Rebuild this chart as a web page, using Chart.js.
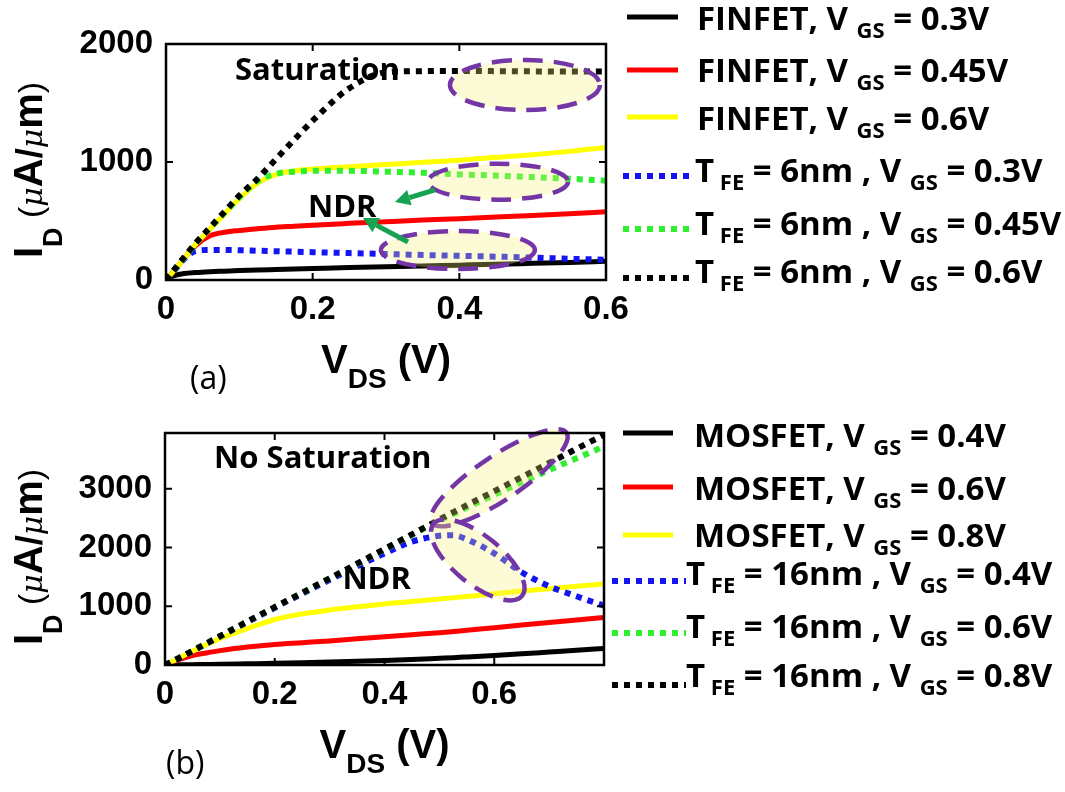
<!DOCTYPE html>
<html>
<head>
<meta charset="utf-8">
<script src="https://cdn.jsdelivr.net/npm/chart.js@4.4.1/dist/chart.umd.min.js"></script>
<style>
  html, body { margin: 0; padding: 0; background: #fff; }
  #wrap { position: relative; width: 1065px; height: 792px; overflow: hidden; }
  canvas { position: absolute; left: 0; }
  #chart-a { top: 0; }
  #chart-b { top: 400px; }
</style>
</head>
<body>
<div id="wrap">
  <canvas id="chart-a" width="1065" height="400"></canvas>
  <canvas id="chart-b" width="1065" height="392"></canvas>
</div>
<script>
// ---- panel (a): FinFET vs NC-FinFET (T_FE = 6nm), I_D in uA/um ----
const vdsA = [0, 0.01, 0.025, 0.04, 0.06, 0.08, 0.1, 0.125, 0.15, 0.175, 0.2, 0.25, 0.3, 0.35, 0.4, 0.45, 0.5, 0.55, 0.6];
const finfet03 = [0, 35, 55, 63, 70, 75, 80, 85, 89, 93, 97, 105, 112, 119, 126, 133, 141, 149, 158];
const finfet045 = [0, 70, 185, 290, 375, 405, 420, 435, 448, 456, 465, 480, 494, 508, 520, 533, 547, 562, 578];
const finfet06 = [0, 72, 185, 300, 430, 560, 690, 820, 895, 925, 940, 960, 978, 997, 1015, 1040, 1062, 1090, 1124];
const tfe6_03 = [0, 70, 180, 245, 255, 255, 252, 248, 244, 240, 236, 228, 220, 212, 205, 198, 190, 180, 172];
const tfe6_045 = [0, 75, 190, 305, 440, 570, 700, 840, 900, 918, 925, 925, 918, 908, 895, 885, 872, 858, 842];
const tfe6_06 = [0, 78, 195, 310, 445, 580, 715, 860, 1025, 1190, 1350, 1625, 1760, 1770, 1772, 1770, 1768, 1768, 1768];
const xTicksA = [0, 0.2, 0.4, 0.6];
const yTicksA = [0, 1000, 2000];

// ---- panel (b): MOSFET vs NC-MOSFET (T_FE = 16nm) ----
const vdsB = [0, 0.025, 0.05, 0.075, 0.1, 0.15, 0.2, 0.25, 0.3, 0.35, 0.4, 0.45, 0.5, 0.525, 0.55, 0.6, 0.65, 0.7, 0.75, 0.8];
const mos04 = [0, 3, 6, 9, 12, 20, 28, 38, 50, 63, 78, 95, 115, 125, 137, 162, 190, 220, 250, 282];
const mos06 = [0, 90, 160, 205, 245, 305, 350, 380, 410, 445, 480, 515, 550, 570, 590, 636, 680, 723, 767, 810];
const mos08 = [0, 115, 235, 345, 450, 620, 775, 870, 935, 990, 1040, 1080, 1125, 1145, 1165, 1215, 1260, 1300, 1340, 1382];
const tfe16_04 = [0, 115, 238, 360, 485, 730, 975, 1215, 1450, 1680, 1900, 2100, 2200, 2210, 2140, 1900, 1580, 1340, 1170, 1010];
const tfe16_06 = [0, 115, 240, 365, 490, 740, 985, 1230, 1475, 1720, 1970, 2215, 2460, 2570, 2680, 2900, 3110, 3320, 3520, 3720];
const tfe16_08 = [0, 115, 240, 365, 490, 740, 985, 1230, 1475, 1725, 1975, 2225, 2475, 2600, 2720, 2960, 3200, 3440, 3680, 3920];
const xTicksB = [0, 0.2, 0.4, 0.6];
const yTicksB = [0, 1000, 2000, 3000];

// legend texts: [text, isSubscript]
const legendTextA = [
  [['FINFET, V '], ['GS', 1], [' = 0.3V']],
  [['FINFET, V '], ['GS', 1], [' = 0.45V']],
  [['FINFET, V '], ['GS', 1], [' = 0.6V']],
  [['T'], [' FE', 1], [' = 6nm , V '], ['GS', 1], [' = 0.3V']],
  [['T'], [' FE', 1], [' = 6nm , V '], ['GS', 1], [' = 0.45V']],
  [['T'], [' FE', 1], [' = 6nm , V '], ['GS', 1], [' = 0.6V']],
];
const legendTextB = [
  [['MOSFET, V '], ['GS', 1], [' = 0.4V']],
  [['MOSFET, V '], ['GS', 1], [' = 0.6V']],
  [['MOSFET, V '], ['GS', 1], [' = 0.8V']],
  [['T'], [' FE', 1], [' = 16nm , V '], ['GS', 1], [' = 0.4V']],
  [['T'], [' FE', 1], [' = 16nm , V '], ['GS', 1], [' = 0.6V']],
  [['T'], [' FE', 1], [' = 16nm , V '], ['GS', 1], [' = 0.8V']],
];

const COLORS = {
  black: '#000000',
  red: '#ff0000',
  yellow: '#ffff00',
  blue: '#1414f0',
  green: '#2ef02e',
};
const legendStyle = [
  { color: COLORS.black, dotted: false },
  { color: COLORS.red, dotted: false },
  { color: COLORS.yellow, dotted: false },
  { color: COLORS.blue, dotted: true },
  { color: COLORS.green, dotted: true },
  { color: COLORS.black, dotted: true },
];

const TEXT_FONT = 'bold 33px "Open Sans"';
const SUB_FONT = 'bold 22px "Open Sans"';
const NOTE_FONT = 'bold 31px "Open Sans"';
const DASH = [6, 6];

const line = (xs, ys, color, dotted) => ({
  data: xs.map((x, i) => ({ x: x, y: ys[i] })),
  borderColor: color,
  backgroundColor: color,
  borderWidth: dotted ? 6 : 5,
  borderDash: dotted ? DASH : [],
  borderCapStyle: 'butt',
  pointRadius: 0,
  cubicInterpolationMode: 'monotone',
  fill: false,
});

const drawRich = (ctx, x, y, parts) => {
  parts.forEach((p) => {
    ctx.font = p.font;
    ctx.fillText(p.text, x, y + (p.dy || 0));
    x += ctx.measureText(p.text).width;
  });
  return x;
};

const richWidth = (ctx, parts) =>
  parts.reduce((w, p) => {
    ctx.font = p.font;
    return w + ctx.measureText(p.text).width;
  }, 0);

const yTitleParts = [
  { text: 'I', font: 'bold 40px "Liberation Sans"' },
  { text: 'D', font: 'bold 27px "Liberation Sans"', dy: 20 },
  { text: ' (', font: '34px "Liberation Sans"' },
  { text: 'μ', font: 'italic 30px "DejaVu Serif"' },
  { text: 'A', font: 'bold 40px "Liberation Sans"' },
  { text: '/', font: 'bold 36px "Liberation Sans"' },
  { text: 'μ', font: 'italic 30px "DejaVu Serif"' },
  { text: 'm', font: 'bold 40px "Liberation Sans"' },
  { text: ')', font: '34px "Liberation Sans"' },
];
const xTitleParts = [
  { text: 'V', font: 'bold 40px "Liberation Sans"' },
  { text: 'DS', font: 'bold 28px "Liberation Sans"', dy: 15 },
  { text: ' (V)', font: 'bold 40px "Liberation Sans"' },
];

const drawArrow = (ctx, x0, y0, x1, y1) => {
  const ang = Math.atan2(y1 - y0, x1 - x0);
  const head = 15;
  const bx = x1 - head * Math.cos(ang);
  const by = y1 - head * Math.sin(ang);
  ctx.strokeStyle = '#17a24f';
  ctx.fillStyle = '#17a24f';
  ctx.lineWidth = 5;
  ctx.beginPath();
  ctx.moveTo(x0, y0);
  ctx.lineTo(bx, by);
  ctx.stroke();
  ctx.beginPath();
  ctx.moveTo(x1, y1);
  ctx.lineTo(bx + 8 * Math.sin(ang), by - 8 * Math.cos(ang));
  ctx.lineTo(bx - 8 * Math.sin(ang), by + 8 * Math.cos(ang));
  ctx.closePath();
  ctx.fill();
};

const panelPlugin = (cfg) => ({
  id: 'panel' + cfg.tag,
  afterDatasetsDraw(chart) {
    const { ctx, chartArea: a } = chart;
    const sx = chart.scales.x;
    const sy = chart.scales.y;
    const px = (v) => sx.getPixelForValue(v);
    const py = (v) => sy.getPixelForValue(v);
    ctx.save();
    ctx.textAlign = 'left';
    ctx.textBaseline = 'alphabetic';

    // highlighted regions
    cfg.ellipses.forEach((e) => {
      ctx.beginPath();
      ctx.ellipse(px(e.x), py(e.y), e.rx, e.ry, (e.rot * Math.PI) / 180, 0, Math.PI * 2);
      ctx.fillStyle = 'rgba(250, 240, 120, 0.3)';
      ctx.fill();
      ctx.setLineDash([20, 11]);
      ctx.lineWidth = 4.5;
      ctx.strokeStyle = '#7436a6';
      ctx.stroke();
    });
    ctx.setLineDash([]);

    cfg.arrows.forEach((r) => drawArrow(ctx, px(r.from[0]), py(r.from[1]), px(r.to[0]), py(r.to[1])));

    ctx.fillStyle = '#000';
    ctx.font = NOTE_FONT;
    cfg.notes.forEach((n) => ctx.fillText(n.text, px(n.x), py(n.y)));

    // box with inward ticks
    ctx.strokeStyle = '#000';
    ctx.lineWidth = 2.5;
    ctx.strokeRect(a.left, a.top, a.right - a.left, a.bottom - a.top);
    ctx.lineWidth = 2;
    ctx.beginPath();
    cfg.xTicks.forEach((v) => {
      const x = px(v);
      ctx.moveTo(x, a.bottom);
      ctx.lineTo(x, a.bottom - 7);
      ctx.moveTo(x, a.top);
      ctx.lineTo(x, a.top + 7);
    });
    cfg.yTicks.forEach((v) => {
      const y = py(v);
      ctx.moveTo(a.left, y);
      ctx.lineTo(a.left + 7, y);
      ctx.moveTo(a.right, y);
      ctx.lineTo(a.right - 7, y);
    });
    ctx.stroke();

    // axis titles
    const midY = (a.top + a.bottom) / 2;
    const midX = (a.left + a.right) / 2;
    ctx.save();
    ctx.translate(42, midY);
    ctx.rotate(-Math.PI / 2);
    drawRich(ctx, -richWidth(ctx, yTitleParts) / 2 - 8, 0, yTitleParts);
    ctx.restore();
    drawRich(ctx, midX - richWidth(ctx, xTitleParts) / 2, a.bottom + 93, xTitleParts);
    ctx.font = '32px "Open Sans"';
    ctx.fillText(cfg.tagText, cfg.tagX, a.bottom + 109);

    // legend
    cfg.legend.forEach((row, i) => {
      const st = legendStyle[i];
      const ly = row.lineY - cfg.offsetY;
      ctx.strokeStyle = st.color;
      ctx.lineWidth = st.dotted ? 6 : 5;
      ctx.setLineDash(st.dotted ? DASH : []);
      ctx.beginPath();
      ctx.moveTo(st.dotted ? cfg.dotX0 : cfg.solidX0, ly);
      ctx.lineTo(st.dotted ? cfg.dotX1 : cfg.solidX1, ly);
      ctx.stroke();
      ctx.setLineDash([]);
      ctx.fillStyle = '#000';
      const parts = cfg.legendText[i].map(([t, sub]) => ({
        text: t,
        font: sub ? SUB_FONT : TEXT_FONT,
        dy: sub ? 8 : 0,
      }));
      drawRich(ctx, st.dotted ? cfg.dotX1 : cfg.textX, row.base - cfg.offsetY, parts);
    });
    ctx.restore();
  },
});

const makeOptions = (xMax, yMax, xTicks, yTicks, pad, yWidth) => ({
  responsive: false,
  animation: false,
  layout: { padding: pad },
  plugins: { legend: { display: false }, tooltip: { enabled: false } },
  scales: {
    x: {
      type: 'linear',
      min: 0,
      max: xMax,
      grid: { display: false, drawTicks: false, tickLength: 0 },
      border: { display: false },
      afterBuildTicks: (s) => { s.ticks = xTicks.map((v) => ({ value: v })); },
      afterFit: (s) => { s.height = 60; },
      ticks: {
        autoSkip: false,
        maxRotation: 0,
        padding: 10,
        color: '#000',
        font: { family: 'Liberation Sans', weight: 'bold', size: 33 },
        callback: (v) => (v === 0 ? '0' : Number(v).toFixed(1)),
      },
    },
    y: {
      type: 'linear',
      min: 0,
      max: yMax,
      grid: { display: false, drawTicks: false, tickLength: 0 },
      border: { display: false },
      afterBuildTicks: (s) => { s.ticks = yTicks.map((v) => ({ value: v })); },
      afterFit: (s) => { s.width = yWidth; },
      ticks: {
        autoSkip: false,
        padding: 13,
        color: '#000',
        font: { family: 'Liberation Sans', weight: 'bold', size: 33 },
        callback: (v) => String(v),
      },
    },
  },
});

const initChartA = () => {
  const datasets = [
    line(vdsA, tfe6_06, COLORS.black, true),
    line(vdsA, tfe6_045, COLORS.green, true),
    line(vdsA, tfe6_03, COLORS.blue, true),
    line(vdsA, finfet06, COLORS.yellow, false),
    line(vdsA, finfet045, COLORS.red, false),
    line(vdsA, finfet03, COLORS.black, false),
  ];
  const cfg = {
    tag: 'A',
    tagText: '(a)',
    tagX: 190,
    offsetY: 0,
    xTicks: xTicksA,
    yTicks: yTicksA,
    ellipses: [
      { x: 0.4895, y: 1653, rx: 75, ry: 25, rot: 0 },
      { x: 0.4527, y: 833, rx: 70, ry: 18, rot: 0 },
      { x: 0.398, y: 254, rx: 77, ry: 19, rot: 0 },
    ],
    arrows: [
      { from: [0.3668, 763], to: [0.3123, 661] },
      { from: [0.33, 322], to: [0.2686, 525] },
    ],
    notes: [
      { text: 'Saturation', x: 0.0941, y: 1695 },
      { text: 'NDR', x: 0.1936, y: 534 },
    ],
    legendText: legendTextA,
    legend: [
      { lineY: 17, base: 30 },
      { lineY: 70, base: 82 },
      { lineY: 117, base: 130 },
      { lineY: 176, base: 182 },
      { lineY: 229, base: 235 },
      { lineY: 278, base: 283 },
    ],
    solidX0: 627,
    solidX1: 678,
    textX: 697,
    dotX0: 623,
    dotX1: 695,
  };
  const config = {
    type: 'line',
    data: { datasets: datasets },
    options: makeOptions(0.6, 2000, xTicksA, yTicksA, { left: 0, top: 44, right: 459, bottom: 60 }, 166),
    plugins: [panelPlugin(cfg)],
  };
  return new Chart(document.getElementById('chart-a'), config);
};

const initChartB = () => {
  const datasets = [
    line(vdsB, tfe16_08, COLORS.black, true),
    line(vdsB, tfe16_06, COLORS.green, true),
    line(vdsB, tfe16_04, COLORS.blue, true),
    line(vdsB, mos08, COLORS.yellow, false),
    line(vdsB, mos06, COLORS.red, false),
    line(vdsB, mos04, COLORS.black, false),
  ];
  const cfg = {
    tag: 'B',
    tagText: '(b)',
    tagX: 166,
    offsetY: 400,
    xTicks: xTicksB,
    yTicks: yTicksB,
    ellipses: [
      { x: 0.609, y: 3187, rx: 81, ry: 22, rot: -33.7 },
      { x: 0.5699, y: 1788, rx: 57, ry: 24, rot: 39 },
    ],
    arrows: [],
    notes: [
      { text: 'No Saturation', x: 0.0895, y: 3354 },
      { text: 'NDR', x: 0.3233, y: 1294 },
    ],
    legendText: legendTextB,
    legend: [
      { lineY: 433, base: 447 },
      { lineY: 487, base: 500 },
      { lineY: 535, base: 547 },
      { lineY: 581, base: 585 },
      { lineY: 633, base: 638 },
      { lineY: 685, base: 687 },
    ],
    solidX0: 623,
    solidX1: 673,
    textX: 694,
    dotX0: 612,
    dotX1: 686,
  };
  const config = {
    type: 'line',
    data: { datasets: datasets },
    options: makeOptions(0.8, 3950, xTicksB, yTicksB, { left: 0, top: 33, right: 461, bottom: 67 }, 165),
    plugins: [panelPlugin(cfg)],
  };
  return new Chart(document.getElementById('chart-b'), config);
};

const [chartA, chartB] = [initChartA(), initChartB()];
</script>
</body>
</html>
